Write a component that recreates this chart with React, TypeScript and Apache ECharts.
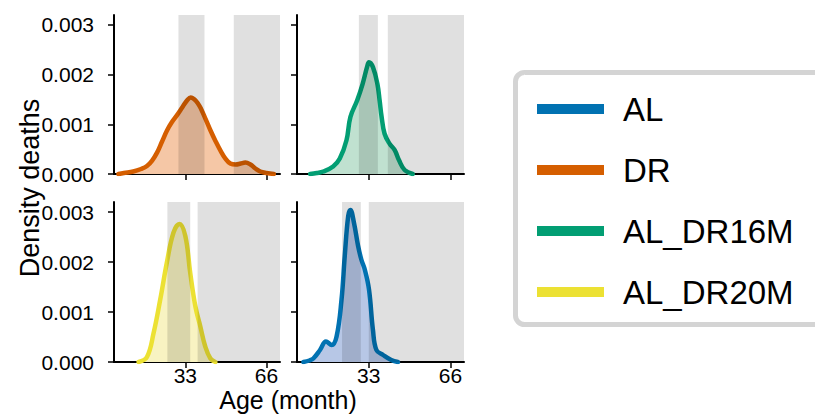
import React, { useEffect, useRef } from "react";
import * as echarts from "echarts";

// ---- data (age in months, density of deaths) ----
const alAge = [6.6, 9, 10.6, 13.3, 15.7, 18.0, 20.0, 22.0, 23.3, 24.7, 25.6, 27.0, 28.7, 30.0, 31.4, 33.1, 34.7, 36.1, 38.8, 42.1, 44.8];
const alDensity = [0, 0.00003, 0.00007, 0.00024, 0.00041, 0.00034, 0.00051, 0.00125, 0.00212, 0.00292, 0.00304, 0.00279, 0.00232, 0.00205, 0.00185, 0.00145, 0.00064, 0.00024, 0.00014, 0.00004, 0];

const drAge = [5.8, 8, 11.8, 15, 17.4, 19.5, 21.5, 23.5, 25.6, 27.5, 29.7, 32, 34, 35.2, 36.5, 38, 39.5, 41.3, 43.2, 45.3, 47.3, 49.3, 51.3, 53.5, 55.5, 57.4, 59.5, 61.5, 63.5, 66, 69];
const drDensity = [0, 0.00002, 0.00005, 0.0001, 0.00016, 0.00027, 0.00043, 0.00065, 0.00088, 0.00104, 0.00119, 0.00136, 0.0015, 0.00154, 0.00151, 0.00143, 0.0013, 0.0011, 0.00088, 0.00066, 0.00047, 0.00031, 0.00021, 0.00019, 0.00021, 0.00023, 0.00019, 0.00011, 0.00005, 0.00002, 0];

const dr16Age = [9.3, 12, 14.6, 18.6, 21.3, 24.0, 25.6, 28.3, 30.5, 32.3, 33.1, 34.7, 36.5, 37.4, 38.2, 39.4, 41.4, 43.5, 45.2, 47.5, 50.8];
const dr16Density = [0, 0.00002, 0.00005, 0.00015, 0.00031, 0.00068, 0.00115, 0.00148, 0.00181, 0.00215, 0.00225, 0.00215, 0.00181, 0.00148, 0.00115, 0.00081, 0.00061, 0.00048, 0.00028, 0.00008, 0];

const dr20Age = [14.0, 17.4, 20.1, 22.8, 25.5, 28.2, 30.6, 33.0, 35.0, 37.1, 39.1, 41.1, 43.2, 45.2];
const dr20Density = [0, 0.0001, 0.00058, 0.00125, 0.00199, 0.00259, 0.00276, 0.00252, 0.00178, 0.00111, 0.00071, 0.00031, 0.00007, 0];

// shaded age windows [start, end]
const AGE_MIN = 4;
const AGE_MAX = 71.5;
const DENS_MAX = 0.0032;
const drBands = [[30.2, 40.8], [52.7, AGE_MAX]];
const dr16Bands = [[29, 36.7], [40.7, AGE_MAX]];
const dr20Bands = [[25.7, 35], [38, AGE_MAX]];
const alBands = [[22.2, 29.8], [33, AGE_MAX]];

const ageTicks = [33, 66];
const densityTicks = [0, 0.001, 0.002, 0.003];

const names = ["AL", "DR", "AL_DR16M", "AL_DR20M"];
const lineColors: Record<string, string> = {
  AL: "#0172B2",
  DR: "#D55E00",
  AL_DR16M: "#029E73",
  AL_DR20M: "#ECE133",
};
const fillColors: Record<string, string> = {
  AL: "#b7c7e6",
  DR: "#f5c7a6",
  AL_DR16M: "#c0e1d0",
  AL_DR20M: "#f8f3c2",
};

const FONT = "'Liberation Sans', Arial, Helvetica, sans-serif";

const zip = (a: number[], b: number[]) => a.map((v, i) => [v, b[i]]);

export default function App() {
  const ref = useRef<HTMLDivElement>(null);
  useEffect(() => {
    if (!ref.current) return;
    const chart = echarts.init(ref.current, null, { renderer: "svg" });

    const grids = [
      { left: 114, top: 15, width: 166, height: 159 },
      { left: 297, top: 15, width: 167, height: 159 },
      { left: 114, top: 202, width: 166, height: 160 },
      { left: 297, top: 202, width: 167, height: 160 },
    ];
    const panels = [
      { name: "DR", data: zip(drAge, drDensity), bands: drBands },
      { name: "AL_DR16M", data: zip(dr16Age, dr16Density), bands: dr16Bands },
      { name: "AL_DR20M", data: zip(dr20Age, dr20Density), bands: dr20Bands },
      { name: "AL", data: zip(alAge, alDensity), bands: alBands },
    ];

    const axisLine = { show: true, lineStyle: { color: "#000", width: 2 } };
    const axisTickBase = { show: true, length: 6, lineStyle: { color: "#000", width: 1.5 } };

    const xAxis = grids.map((_, i) => ({
      type: "value",
      gridIndex: i,
      min: AGE_MIN,
      max: AGE_MAX,
      axisLine,
      axisTick: { ...axisTickBase, customValues: ageTicks },
      axisLabel: {
        show: i >= 2,
        customValues: ageTicks,
        fontSize: 21,
        fontFamily: FONT,
        color: "#000",
        margin: 3,
      },
      splitLine: { show: false },
    }));
    const yAxis = grids.map((_, i) => ({
      type: "value",
      gridIndex: i,
      min: 0,
      max: DENS_MAX,
      axisLine,
      axisTick: { ...axisTickBase, customValues: densityTicks },
      axisLabel: {
        show: i % 2 === 0,
        customValues: densityTicks,
        formatter: (v: number) => v.toFixed(3),
        fontSize: 21,
        fontFamily: FONT,
        color: "#000",
        margin: 20,
      },
      splitLine: { show: false },
    }));

    const series: any[] = [];
    panels.forEach((p, i) => {
      series.push({
        type: "line",
        name: p.name,
        xAxisIndex: i,
        yAxisIndex: i,
        data: p.data,
        smooth: 0.4,
        symbol: "none",
        color: lineColors[p.name],
        lineStyle: { color: lineColors[p.name], width: 4.5, cap: "round", join: "round" },
        itemStyle: { color: lineColors[p.name] },
        areaStyle: { color: fillColors[p.name], opacity: 1 },
        z: 2,
      });
      series.push({
        type: "custom",
        xAxisIndex: i,
        yAxisIndex: i,
        data: p.bands.map((b) => [b[0], b[1], 0, DENS_MAX]),
        encode: { x: [0, 1], y: [2, 3] },
        renderItem: (_params: any, api: any) => {
          const s = api.coord([api.value(0), api.value(3)]);
          const e = api.coord([api.value(1), api.value(2)]);
          return {
            type: "rect",
            shape: { x: s[0], y: s[1], width: e[0] - s[0], height: e[1] - s[1] },
            style: { fill: "rgba(0,0,0,0.12)" },
          };
        },
        silent: true,
        z: 5,
      });
    });

    chart.setOption({
      animation: false,
      backgroundColor: "#fff",
      grid: grids.map((g) => ({ ...g, containLabel: false })),
      xAxis,
      yAxis,
      series,
      legend: {
        data: names,
        orient: "vertical",
        left: 516,
        top: 72,
        padding: [20, 20, 17, 21],
        itemWidth: 67,
        itemHeight: 10,
        itemGap: 27,
        icon: "rect",
        selectedMode: false,
        textStyle: {
          fontSize: 33,
          fontFamily: FONT,
          color: "#000",
          lineHeight: 34,
          padding: [0, 0, 0, 14],
        },
      },
      graphic: [
        {
          type: "rect",
          shape: { x: 515.5, y: 72.5, width: 400, height: 252, r: 9 },
          style: { fill: "none", stroke: "#d4d4d4", lineWidth: 5 },
          silent: true,
        },
        {
          type: "text",
          x: 30,
          y: 188,
          rotation: Math.PI / 2,
          style: {
            text: "Density deaths",
            fontSize: 27,
            fontFamily: FONT,
            fill: "#000",
            textAlign: "center",
            textVerticalAlign: "middle",
          },
        },
        {
          type: "text",
          x: 288,
          y: 400,
          style: {
            text: "Age (month)",
            fontSize: 25,
            fontFamily: FONT,
            fill: "#000",
            textAlign: "center",
            textVerticalAlign: "middle",
          },
        },
      ],
    });
    return () => chart.dispose();
  }, []);
  return (
    <div
      ref={ref}
      style={{ position: "fixed", left: 0, top: 0, width: 815, height: 414 }}
    />
  );
}
